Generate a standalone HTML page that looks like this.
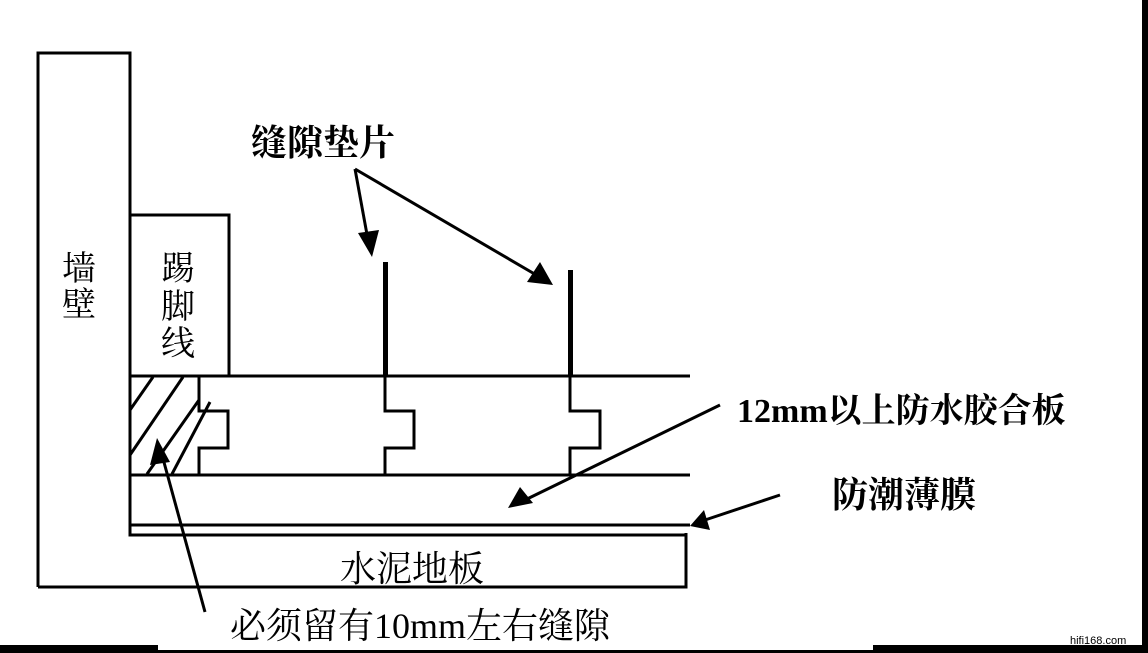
<!DOCTYPE html>
<html><head><meta charset="utf-8"><style>
html,body{margin:0;padding:0;background:#fff;}
svg{display:block;}
.t{font-family:"Liberation Serif","Noto Serif CJK SC","Noto Sans CJK SC",serif;fill:#000;}
</style></head><body>
<svg width="1148" height="653" viewBox="0 0 1148 653" xmlns="http://www.w3.org/2000/svg">
<rect width="1148" height="653" fill="#fff"/>
<g stroke="#000" stroke-width="3" fill="none">
<!-- wall -->
<polyline points="38,587 38,53 130,53 130,535 686,535"/>
<!-- baseboard -->
<polyline points="130,215 229,215 229,376"/>
<!-- board lines -->
<line x1="130" y1="376" x2="690" y2="376"/>
<line x1="130" y1="475" x2="690" y2="475"/>
<line x1="130" y1="525" x2="690" y2="525"/>
<!-- concrete -->
<polyline points="38,587 686,587 686,533"/>
<!-- joints -->
<polyline points="199,376 199,411 228,411 228,448 199,448 199,475"/>
<polyline points="385,376 385,411 414,411 414,448 385,448 385,475"/>
<polyline points="570,376 570,411 600,411 600,448 570,448 570,475"/>
<!-- hatch -->
<line x1="130" y1="410" x2="153" y2="377"/>
<line x1="130" y1="455" x2="183" y2="377"/>
<line x1="147" y1="474" x2="199" y2="400"/>
<line x1="172" y1="474" x2="210" y2="402"/>
</g>
<!-- spacers -->
<rect x="383" y="262" width="5" height="114" fill="#000"/>
<rect x="568" y="270" width="5" height="106" fill="#000"/>
<!-- arrows -->
<g stroke="#000" stroke-width="3">
<line x1="355" y1="169" x2="368" y2="240"/>
<line x1="355" y1="169" x2="538" y2="276"/>
<line x1="720" y1="405" x2="525" y2="500"/>
<line x1="780" y1="495" x2="705" y2="520"/>
<line x1="205" y1="612" x2="162" y2="455"/>
</g>
<g fill="#000">
<polygon points="372,257 358,233 379,230"/>
<polygon points="553,285 527,282 540,262"/>
<polygon points="508,508 520,487 533,503"/>
<polygon points="690,526 704,510 710,530"/>
<polygon points="157,438 150,465 170,462"/>
</g>
<!-- text -->
<text class="t" x="62" y="280" font-size="34">墙</text>
<text class="t" x="62" y="316" font-size="34">壁</text>
<text class="t" x="161" y="280" font-size="34">踢</text>
<text class="t" x="161" y="318" font-size="34">脚</text>
<text class="t" x="161" y="355" font-size="34">线</text>
<text class="t" x="251" y="155" font-size="36" font-weight="bold">缝隙垫片</text>
<text class="t" x="737" y="422" font-size="34" font-weight="bold">12mm以上防水胶合板</text>
<text class="t" x="832" y="507" font-size="36" font-weight="bold">防潮薄膜</text>
<text class="t" x="340" y="581" font-size="36">水泥地板</text>
<text class="t" x="230" y="638" font-size="36">必须留有10mm左右缝隙</text>
<text x="1070" y="644" font-size="11" font-family="Liberation Sans, sans-serif" fill="#000">hifi168.com</text>
<!-- borders -->
<rect x="1142" y="0" width="6" height="653" fill="#000"/>
<rect x="0" y="645" width="158" height="8" fill="#000"/>
<rect x="158" y="650" width="715" height="3" fill="#000"/>
<rect x="873" y="645" width="275" height="8" fill="#000"/>
</svg>
</body></html>
